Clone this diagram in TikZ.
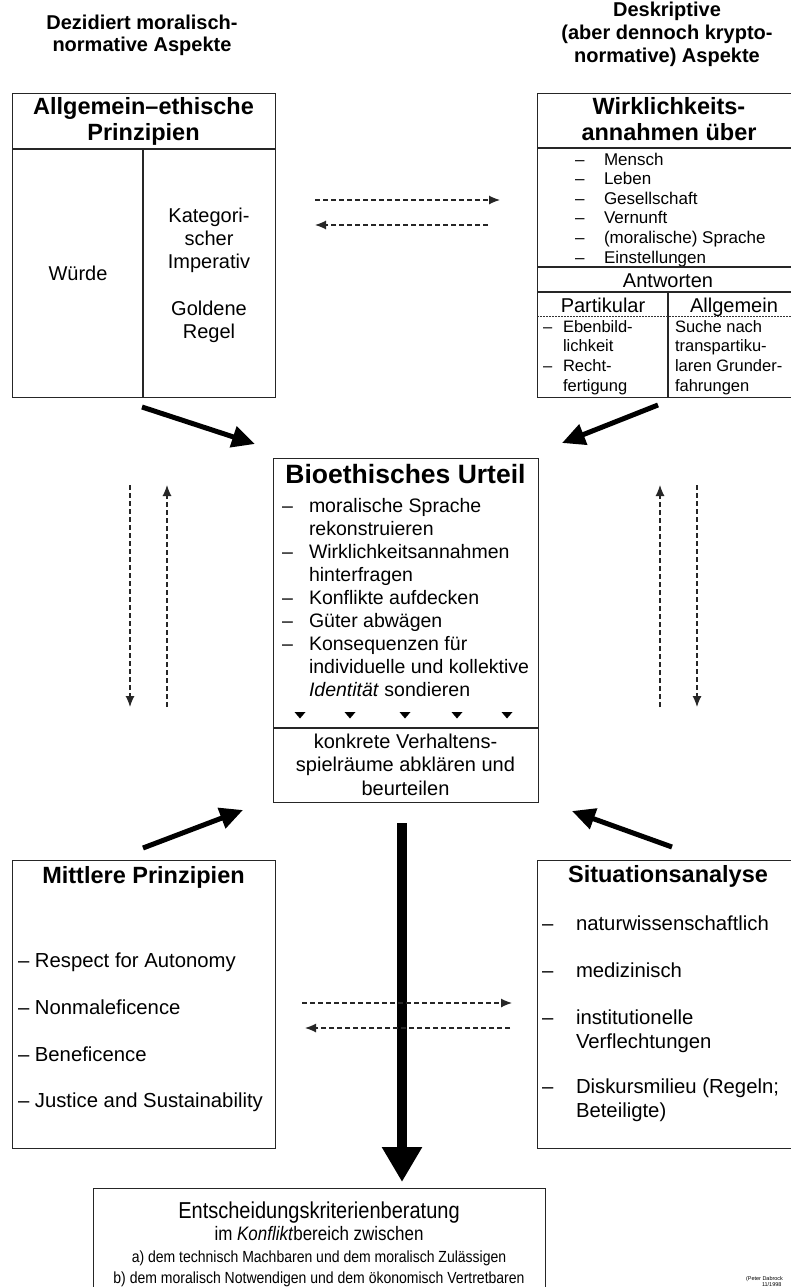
\documentclass[tikz,border=0pt]{standalone}
\usepackage{fontspec}
\setmainfont{Liberation Sans}
\newfontfamily\condf[FakeStretch=0.87]{Liberation Sans}
\usetikzlibrary{arrows.meta}
\newcommand\tabL[1]{\begin{tabular}[t]{@{}l@{}}#1\end{tabular}}
\newcommand\tabC[1]{\begin{tabular}[t]{@{}c@{}}#1\end{tabular}}
\newcommand\fs[2]{\fontsize{#1}{#2}\selectfont}
\tikzset{
  boxline/.style={draw=black!85, line width=1.3pt, inner sep=0pt, anchor=north west},
  sepline/.style={draw=black!85, line width=1.1pt},
  txt/.style={inner sep=0pt, outer sep=0pt, anchor=base},
  txtL/.style={inner sep=0pt, outer sep=0pt, anchor=base west},
  dasharr/.style={draw=black!85, line width=1.2pt, dash pattern=on 5pt off 3pt, -{Latex[length=11pt,width=9pt]}},
  bigarr/.style={line width=5pt, -{Triangle[length=23pt,width=21pt]}},
  mainarr/.style={line width=10pt, -{Triangle[length=35pt,width=38pt]}},
}
\begin{document}
\begin{tikzpicture}[x=1pt,y=-1pt]
\useasboundingbox (0,0) rectangle (791,1287);
\clip (0,0) rectangle (791,1287);
\fill[white] (0,0) rectangle (791,1287);

% headings
\node[txt] (hl) at (142,30) {\fs{20}{22}\bfseries\tabC{Dezidiert moralisch-\\normative Aspekte}};
\node[txt] (hr) at (667,17) {\fs{20}{23}\bfseries\tabC{Deskriptive\\(aber dennoch krypto-\\normative) Aspekte}};

% left top box
\node[boxline, minimum width=263pt, minimum height=304pt] (allg) at (12,93) {};
\draw[sepline] (12,149) -- (275,149);
\draw[sepline] (143,149) -- (143,397);
\node[txt] (allgT) at (143.5,115) {\fs{23.5}{26}\bfseries\tabC{Allgemein–ethische\\Prinzipien}};
\node[txt] (wuerde) at (78,280) {\fs{20}{23.3}Würde};
\node[txt] (kat) at (209,222) {\fs{20}{23.3}\tabC{Kategori-\\scher\\Imperativ\\ \\Goldene\\Regel}};

% right top box
\node[boxline, minimum width=263pt, minimum height=304pt] (wirk) at (537,93) {};
\draw[sepline] (537,148) -- (800,148);
\node[txt] (wirkT) at (669,115) {\fs{23.5}{26}\bfseries\tabC{Wirklichkeits-\\annahmen über}};
\node[txtL] (wirkD) at (575,165) {\fs{17}{19.6}\tabL{–\\–\\–\\–\\–\\–}};
\node[txtL] (wirkL) at (604,165) {\fs{17}{19.6}\tabL{Mensch\\Leben\\Gesellschaft\\Vernunft\\(moralische) Sprache\\Einstellungen}};
\draw[sepline] (537,267) -- (800,267);
\node[txt] (antw) at (668,287) {\fs{20}{23}Antworten};
\draw[sepline] (537,292) -- (800,292);
\draw[sepline] (668,292) -- (668,397);
\node[txt] (part) at (603,312) {\fs{20}{23}Partikular};
\node[txt] (allgem) at (734,312) {\fs{20}{23}Allgemein};
\draw[black!80, line width=0.8pt, dash pattern=on 1.5pt off 1.5pt] (537,316) -- (800,316);
\node[txtL] (partD) at (543,332) {\fs{16.5}{19.8}\tabL{–\\ \\–\\ }};
\node[txtL] (partL) at (563,332) {\fs{16.5}{19.8}\tabL{Ebenbild-\\lichkeit\\Recht-\\fertigung}};
\node[txtL] (allgL) at (675,332) {\fs{16.5}{19.8}\tabL{Suche nach\\transpartiku-\\laren Grunder-\\fahrungen}};

% dashed arrows top
\coordinate (t1a) at (315,200); \coordinate (t1b) at (500,200);
\coordinate (t2a) at (488,225); \coordinate (t2b) at (315,225);
\draw[dasharr] (t1a) -- (t1b);
\draw[dasharr] (t2a) -- (t2b);

% thick arrows top
\coordinate (a1s) at (142,407); \coordinate (a1e) at (255,444);
\coordinate (a2s) at (658,405); \coordinate (a2e) at (562,443);
\draw[bigarr] (a1s) -- (a1e);
\draw[bigarr] (a2s) -- (a2e);

% central box
\node[boxline, minimum width=265pt, minimum height=344pt] (bio) at (273,458) {};
\node[txt] (bioT) at (405.5,483) {\fs{26.5}{30}\bfseries Bioethisches Urteil};
\node[txtL] (bioD) at (282,512) {\fs{19.5}{23.1}\tabL{–\\ \\–\\ \\–\\–\\–\\ \\ }};
\node[txtL] (bioL) at (309,512) {\fs{19.5}{23.1}\tabL{moralische Sprache\\rekonstruieren\\Wirklichkeitsannahmen\\hinterfragen\\Konflikte aufdecken\\Güter abwägen\\Konsequenzen für\\individuelle und kollektive\\\textit{Identität} sondieren}};
\foreach \tx in {300,350,405,457,507}{
  \fill (\tx-5.5,712) -- (\tx+5.5,712) -- (\tx,718.5) -- cycle;
}
\draw[sepline] (273,728) -- (538,728);
\node[txt] (bioB) at (405.5,748) {\fs{20}{23.5}\tabC{konkrete Verhaltens-\\spielräume abklären und\\beurteilen}};

% vertical dashed arrows
\coordinate (v1a) at (130,485); \coordinate (v1b) at (130,707);
\coordinate (v2a) at (167,707); \coordinate (v2b) at (167,485);
\coordinate (v3a) at (660,707); \coordinate (v3b) at (660,485);
\coordinate (v4a) at (697,485); \coordinate (v4b) at (697,707);
\draw[dasharr] (v1a) -- (v1b);
\draw[dasharr] (v2a) -- (v2b);
\draw[dasharr] (v3a) -- (v3b);
\draw[dasharr] (v4a) -- (v4b);

% thick arrows bottom
\coordinate (a3s) at (143,848); \coordinate (a3e) at (243,810);
\coordinate (a4s) at (672,847); \coordinate (a4e) at (572,811);
\draw[bigarr] (a3s) -- (a3e);
\draw[bigarr] (a4s) -- (a4e);

% main arrow
\coordinate (ms) at (402,823); \coordinate (me) at (402,1182);
\draw[mainarr] (ms) -- (me);

% Mittlere Prinzipien
\node[boxline, minimum width=263pt, minimum height=288pt] (mitt) at (12,860) {};
\node[txt] (mittT) at (143.5,883) {\fs{23.5}{26}\bfseries Mittlere Prinzipien};
\node[txtL] (m1) at (18,967) {\fs{20.3}{23}– Respect for Autonomy};
\node[txtL] (m2) at (18,1014) {\fs{20.3}{23}– Nonmaleficence};
\node[txtL] (m3) at (18,1061) {\fs{20.3}{23}– Beneficence};
\node[txtL] (m4) at (18,1107) {\fs{20.3}{23}– Justice and Sustainability};

% Situationsanalyse
\node[boxline, minimum width=263pt, minimum height=288pt] (sit) at (537,860) {};
\node[txt] (sitT) at (668,882) {\fs{23.5}{26}\bfseries Situationsanalyse};
\node[txtL] (s1d) at (542,930) {\fs{20.3}{24}–};
\node[txtL] (s1) at (576,930) {\fs{20.3}{24}naturwissenschaftlich};
\node[txtL] (s2d) at (542,977) {\fs{20.3}{24}–};
\node[txtL] (s2) at (576,977) {\fs{20.3}{24}medizinisch};
\node[txtL] (s3d) at (542,1024) {\fs{20.3}{24}–};
\node[txtL] (s3) at (576,1024) {\fs{20.3}{24}\tabL{institutionelle\\Verflechtungen}};
\node[txtL] (s4d) at (542,1093) {\fs{20.3}{24}–};
\node[txtL] (s4) at (576,1093) {\fs{20.3}{24}\tabL{Diskursmilieu (Regeln;\\Beteiligte)}};

% dashed arrows bottom
\coordinate (b1a) at (302,1003); \coordinate (b1b) at (512,1003);
\coordinate (b2a) at (510,1028); \coordinate (b2b) at (305,1028);
\draw[dasharr] (b1a) -- (b1b);
\draw[dasharr] (b2a) -- (b2b);

% bottom box
\node[boxline, minimum width=452pt, minimum height=110pt] (ent) at (93,1188) {};
\node[txt] (entT) at (319,1218) {\condf\fs{23}{26}Entscheidungskriterienberatung};
\node[txt] (ent1) at (319,1240) {\condf\fs{19.5}{23}im \textit{Konflikt}bereich zwischen};
\node[txt] (ent2) at (319,1262) {\condf\fs{16.1}{20}a) dem technisch Machbaren und dem moralisch Zulässigen};
\node[txt] (ent3) at (319,1283) {\condf\fs{16.1}{20}b) dem moralisch Notwendigen und dem ökonomisch Vertretbaren};

% credit
\node[txtL] (cred1) at (746,1280) {\fs{5.5}{6}(Peter Dabrock};
\node[txtL] (cred2) at (762,1286) {\fs{5.5}{6}11/1998};
\end{tikzpicture}
\end{document}
